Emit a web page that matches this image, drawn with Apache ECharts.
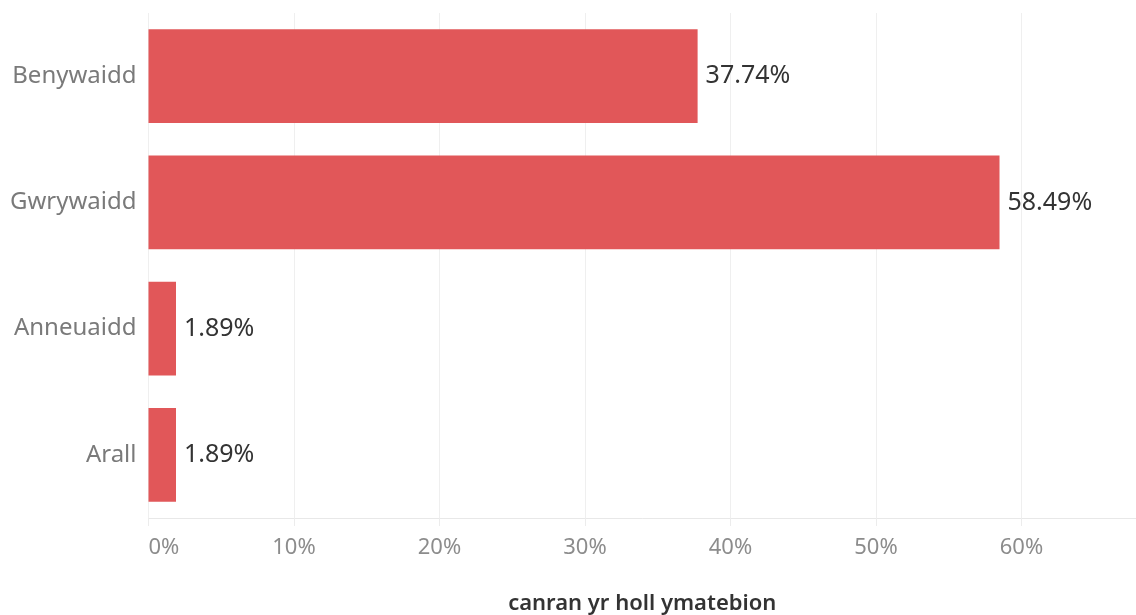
<!DOCTYPE html>
<html>
<head>
<meta charset="utf-8">
<script src="https://cdn.jsdelivr.net/npm/echarts@6/dist/echarts.min.js"></script>
<style>
html,body{margin:0;padding:0;background:#fff;}
#chart{width:1136px;height:615px;}
</style>
</head>
<body>
<div id="chart"></div>
<script>
const categories = ['Benywaidd', 'Gwrywaidd', 'Anneuaidd', 'Arall'];
const values = [37.74, 58.49, 1.89, 1.89];
const xAxisTitle = 'canran yr holl ymatebion';
const xMin = 0;
const xMax = 67.87;
const xInterval = 10;

const FONT = '"Noto Sans", sans-serif';
const chart = echarts.init(document.getElementById('chart'), null, {renderer: 'canvas'});
chart.setOption({
  animation: false,
  backgroundColor: '#ffffff',
  grid: {left: 148.5, right: 0, top: 13, bottom: 97, containLabel: false, outerBoundsMode: 'none'},
  xAxis: {
    type: 'value',
    min: xMin,
    max: xMax,
    interval: xInterval,
    name: xAxisTitle,
    nameLocation: 'middle',
    nameGap: 75,
    nameTextStyle: {fontFamily: FONT, fontSize: 22, fontWeight: 600, color: '#333333'},
    axisLine: {show: true, lineStyle: {color: '#e8e8e8', width: 1}},
    axisTick: {show: true, length: 8, lineStyle: {color: '#ececec'}},
    splitLine: {show: true, lineStyle: {color: '#efefef', width: 1}},
    axisLabel: {
      fontFamily: FONT, fontSize: 22, color: '#8c8c8c', margin: 19,
      showMaxLabel: false,
      alignMinLabel: 'left',
      formatter: function (v) { return (Math.abs(v % 10) < 1e-6) ? v + '%' : ''; }
    }
  },
  yAxis: {
    type: 'category',
    data: categories,
    inverse: true,
    axisLine: {show: false},
    axisTick: {show: false},
    splitLine: {show: false},
    axisLabel: {fontFamily: FONT, fontSize: 24, color: '#7a7a7a', margin: 12}
  },
  series: [{
    type: 'bar',
    data: values,
    barCategoryGap: '25.8%',
    itemStyle: {color: '#e15759'},
    label: {
      show: true,
      position: 'right',
      distance: 8,
      fontFamily: FONT,
      fontSize: 25,
      color: '#333333',
      formatter: function (p) { return p.value.toFixed(2) + '%'; }
    }
  }]
});
</script>
</body>
</html>
